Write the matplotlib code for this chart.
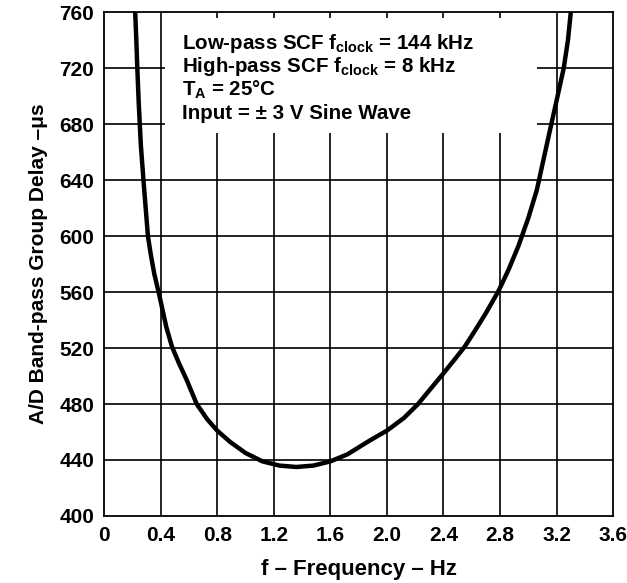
import numpy as np
import matplotlib
matplotlib.use("Agg")
import matplotlib.pyplot as plt
from matplotlib.patches import Rectangle

plt.rcParams['font.family'] = ['Liberation Sans', 'DejaVu Sans']
plt.rcParams['font.weight'] = 'bold'
plt.rcParams['mathtext.fontset'] = 'custom'
plt.rcParams['mathtext.rm'] = 'Liberation Sans:bold'
plt.rcParams['mathtext.default'] = 'rm'

# curve (frequency in Hz, group delay in us)
freq = [0.22, 0.228, 0.235, 0.245, 0.26, 0.28, 0.31, 0.33, 0.355, 0.39,
        0.44, 0.48, 0.53, 0.585, 0.655,
        0.73, 0.80, 0.89, 1.00, 1.12, 1.24, 1.36, 1.48, 1.60, 1.72, 1.88,
        2.00, 2.12, 2.22, 2.31, 2.40, 2.48, 2.55, 2.62, 2.70, 2.79, 2.86,
        2.93, 3.00, 3.06, 3.11, 3.16, 3.20, 3.25, 3.28, 3.30]
delay = [760, 740, 720, 695, 665, 638, 600, 587, 573, 558,
         535, 521, 509, 497, 480,
         469, 461, 453, 445, 439, 436, 435, 436, 439, 444, 454,
         461, 470, 480, 491, 502, 512, 521, 532, 545, 561, 576,
         593, 613, 633, 656, 679, 697, 720, 740, 760]

x_ticks = [0, 0.4, 0.8, 1.2, 1.6, 2.0, 2.4, 2.8, 3.2, 3.6]
x_labels = ['0', '0.4', '0.8', '1.2', '1.6', '2.0', '2.4', '2.8', '3.2', '3.6']
y_ticks = [400, 440, 480, 520, 560, 600, 640, 680, 720, 760]

notes = ['Low-pass SCF f$_{clock}$ = 144 kHz',
         'High-pass SCF f$_{clock}$ = 8 kHz',
         'T$_A$ = 25°C',
         'Input = ± 3 V Sine Wave']
note_y = [733.5, 717, 700.5, 684]

fig = plt.figure(figsize=(6.27, 5.83), dpi=100)
ax = fig.add_axes([0.166, 0.115, 0.812, 0.864])

# grid
for xv in x_ticks[1:-1]:
    ax.axvline(xv, color='black', lw=1.2, zorder=1)
for yv in y_ticks[1:-1]:
    ax.axhline(yv, color='black', lw=1.2, zorder=1)

# white panel behind the notes
ax.add_patch(Rectangle((0.43, 674), 2.63, 82, facecolor='white',
                       edgecolor='none', zorder=2))

ax.plot(freq, delay, color='black', lw=3.2, solid_capstyle='round',
        solid_joinstyle='round', zorder=3)

for txt, yv in zip(notes, note_y):
    ax.text(0.55, yv, txt, fontsize=14.8, fontweight='bold',
            va='baseline', ha='left', zorder=4)

ax.set_xlim(0, 3.6)
ax.set_ylim(400, 760)
ax.set_xticks(x_ticks)
ax.set_xticklabels(x_labels)
ax.set_yticks(y_ticks)
ax.tick_params(length=0, labelsize=15, pad=7)
for s in ax.spines.values():
    s.set_linewidth(1.3)

ax.set_xlabel('f – Frequency – Hz', fontsize=16, fontweight='bold', labelpad=10)
ax.set_ylabel('A/D Band-pass Group Delay –μs', fontsize=15, fontweight='bold',
              labelpad=8)

fig.savefig('out.png', dpi=100)
